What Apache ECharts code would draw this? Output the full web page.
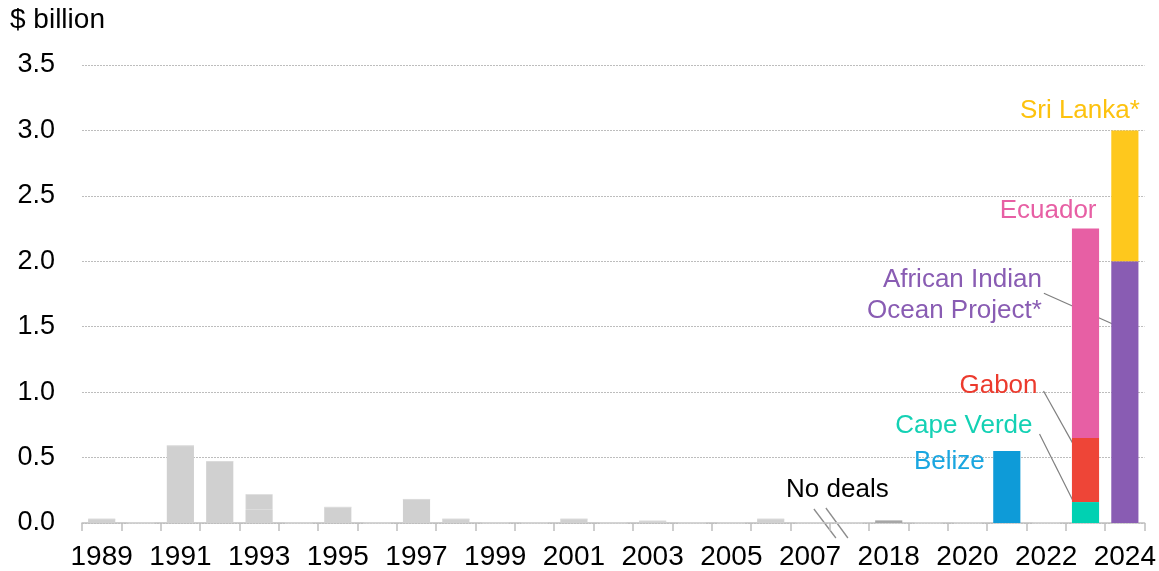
<!DOCTYPE html>
<html>
<head>
<meta charset="utf-8">
<script src="https://cdn.jsdelivr.net/npm/echarts@6/dist/echarts.min.js"></script>
<style>
  html, body { margin: 0; padding: 0; background: #ffffff; }
  #chart { width: 1159px; height: 571px; }
</style>
</head>
<body>
<div id="chart"></div>
<script>
// Years on the axis; the blank slot marks the 2008–2017 gap ("No deals").
const years = ['1989','1990','1991','1992','1993','1994','1995','1996','1997','1998',
               '1999','2000','2001','2002','2003','2004','2005','2006','2007',
               '',
               '2018','2019','2020','2021','2022','2023','2024'];
const BREAK_INDEX = 19;

// Debt-for-nature swap volumes, $ billion
const earlyDeals  = [0.03,0,0.59,0.47,0.10,0,0.12,0,0.18,0.03,0,0,0.03,0,0.015,0,0,0.03,0,0, 0,0,0,0,0,0,0];
const earlyDeals2 = [0,0,0,0,0.12,0,0,0,0,0,0,0,0,0,0,0,0,0,0,0, 0,0,0,0,0,0,0];
const deals2018   = [0,0,0,0,0,0,0,0,0,0,0,0,0,0,0,0,0,0,0,0, 0.02,0,0,0,0,0,0];
const belize      = [0,0,0,0,0,0,0,0,0,0,0,0,0,0,0,0,0,0,0,0, 0,0,0,0.55,0,0,0];
const capeVerde   = [0,0,0,0,0,0,0,0,0,0,0,0,0,0,0,0,0,0,0,0, 0,0,0,0,0,0.16,0];
const gabon       = [0,0,0,0,0,0,0,0,0,0,0,0,0,0,0,0,0,0,0,0, 0,0,0,0,0,0.49,0];
const ecuador     = [0,0,0,0,0,0,0,0,0,0,0,0,0,0,0,0,0,0,0,0, 0,0,0,0,0,1.60,0];
const aiop        = [0,0,0,0,0,0,0,0,0,0,0,0,0,0,0,0,0,0,0,0, 0,0,0,0,0,0,2.0];
const sriLanka    = [0,0,0,0,0,0,0,0,0,0,0,0,0,0,0,0,0,0,0,0, 0,0,0,0,0,0,1.0];

const yTicks = { min: 0, max: 3.5, step: 0.5 };

const FONT = "'Liberation Sans', Arial, sans-serif";
const chart = echarts.init(document.getElementById('chart'), null, { renderer: 'canvas' });

function barSeries(name, data, color, border) {
  return {
    name, type: 'bar', stack: 'total', data,
    barCategoryGap: '31%',
    itemStyle: border ? { color, borderColor: border, borderWidth: 0.6 } : { color },
    emphasis: { disabled: true }
  };
}

chart.setOption({
  animation: false,
  grid: { left: 82, right: 14, top: 65, bottom: 47 },
  xAxis: {
    type: 'category',
    data: years,
    boundaryGap: true,
    axisLine: { lineStyle: { color: '#bfbfbf', width: 1.5 } },
    axisTick: {
      show: true,
      length: 8,
      lineStyle: { color: '#bfbfbf', width: 1.5 },
      interval: 0
    },
    axisLabel: {
      interval: 1,
      margin: 20,
      color: '#000',
      fontSize: 28,
      fontFamily: FONT
    }
  },
  yAxis: {
    type: 'value',
    min: yTicks.min, max: yTicks.max, interval: yTicks.step,
    axisLine: { show: false },
    axisTick: { show: false },
    axisLabel: {
      margin: 27,
      color: '#000',
      fontSize: 27,
      fontFamily: FONT,
      formatter: (v) => v.toFixed(1)
    },
    splitLine: { lineStyle: { color: '#bdbdbd', type: [2, 1], width: 1 } }
  },
  series: [
    barSeries('Earlier deals', earlyDeals, '#d0d0d0'),
    barSeries('Earlier deals (2)', earlyDeals2, '#d0d0d0', '#dadada'),
    barSeries('2018', deals2018, '#a6a6a6'),
    barSeries('Belize', belize, '#0e9bd8'),
    barSeries('Cape Verde', capeVerde, '#00d1b2'),
    barSeries('Gabon', gabon, '#ee4537'),
    barSeries('Ecuador', ecuador, '#e75fa4'),
    barSeries('African Indian Ocean Project', aiop, '#895cb3'),
    barSeries('Sri Lanka', sriLanka, '#fec81d')
  ]
});

// Annotation layout: anchored to a bar point, offset in pixels.
const annotations = [
  { text: 'Sri Lanka*', color: '#fdc20e', at: [26, 3.0],  dx: 15,  dy: -20 },
  { text: 'Ecuador',    color: '#e75fa4', at: [25, 2.25], dx: 11,  dy: -18 },
  { text: 'African Indian\nOcean Project*', color: '#895cb3', at: [26, 2.0], dx: -83, dy: 34, lineHeight: 31 },
  { text: 'Gabon',      color: '#ec3a2d', at: [25, 0.65], dx: -48, dy: -52 },
  { text: 'Cape Verde', color: '#14d1b4', at: [25, 0.65], dx: -53, dy: -12 },
  { text: 'Belize',     color: '#1aa6e0', at: [23, 0.55], dx: -22, dy: 11 },
  { text: 'No deals',   color: '#000000', at: [BREAK_INDEX, 0], dx: -12, dy: -33, align: 'center' }
];

// Leader lines: from a pixel offset of a label anchor to a point on the bar.
const leaders = [
  { from: [26, 2.0],  fdx: -81, fdy: 32, to: [26, 1.5],  tdx: -6 },
  { from: [25, 0.65], fdx: -42, fdy: -47, to: [25, 0.53], tdx: -7 },
  { from: [25, 0.65], fdx: -46, fdy: -4,  to: [25, 0.07], tdx: -6 }
];

function px(pt) { return chart.convertToPixel({ gridIndex: 0 }, pt); }

const elements = [];
annotations.forEach((a) => {
  const p = px(a.at);
  const align = a.align || 'right';
  elements.push({
    type: 'text',
    x: p[0] + a.dx, y: p[1] + a.dy,
    silent: true,
    style: {
      text: a.text, fill: a.color,
      font: '26px ' + FONT,
      textAlign: align, align: align,
      textVerticalAlign: 'middle', verticalAlign: 'middle',
      lineHeight: a.lineHeight || 30
    }
  });
});
leaders.forEach((l) => {
  const a = px(l.from), b = px(l.to);
  elements.push({
    type: 'line', silent: true,
    shape: { x1: a[0] + l.fdx, y1: a[1] + l.fdy, x2: b[0] + (l.tdx || 0), y2: b[1] + (l.tdy || 0) },
    style: { stroke: '#7f7f7f', lineWidth: 1.2 }
  });
});

// Axis break: blank out the tick where the gap begins, then draw the "//" marks
const br = px([BREAK_INDEX, 0]);
const bandHalf = (px([BREAK_INDEX + 1, 0])[0] - br[0]) / 2;
elements.push({
  type: 'rect', silent: true,
  shape: { x: br[0] - bandHalf - 2, y: br[1] + 1, width: 4, height: 9 },
  style: { fill: '#ffffff' }
});
[[-35.5, -14, -13.5, 15], [-23.5, -15, -1.5, 15]].forEach((s) => {
  elements.push({
    type: 'line', silent: true,
    shape: { x1: br[0] + s[0], y1: br[1] + s[1], x2: br[0] + s[2], y2: br[1] + s[3] },
    style: { stroke: '#8c8c8c', lineWidth: 1.3 }
  });
});

// Unit label
elements.push({
  type: 'text', x: 10, y: 20, silent: true,
  style: { text: '$ billion', fill: '#000', font: '28px ' + FONT,
           textAlign: 'left', align: 'left', textVerticalAlign: 'middle', verticalAlign: 'middle' }
});

chart.setOption({ graphic: { elements } });
</script>
</body>
</html>
